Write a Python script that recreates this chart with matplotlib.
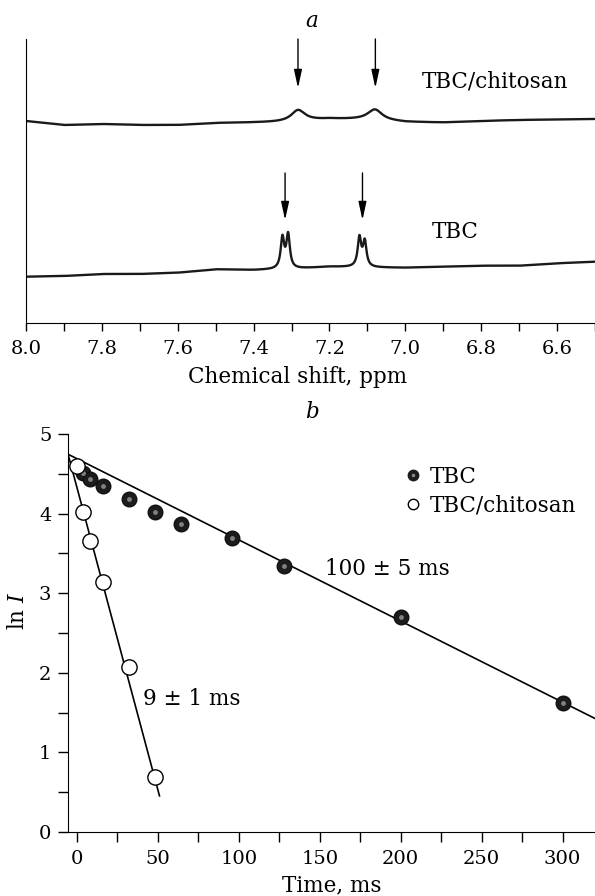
import matplotlib

matplotlib.use("Agg")
import matplotlib.pyplot as plt
from matplotlib.ticker import MultipleLocator
import numpy as np

plt.rcParams["font.family"] = "DejaVu Serif"
plt.rcParams["mathtext.fontset"] = "dejavuserif"

# --- panel a: 1H spectra (arbitrary intensity units) ---
BASELINE_PPM = [8.0, 7.9, 7.8, 7.7, 7.6, 7.5, 7.4, 7.3, 7.2, 7.1, 7.0, 6.9, 6.8, 6.7, 6.6, 6.5]
CHITOSAN_BASELINE = [202, 198, 199, 198, 198, 200, 200.5, 201, 204, 203.5, 201, 200.5, 202, 203, 203.5, 204]
TBC_BASELINE = [46.3, 47, 49, 49, 50.3, 53.7, 53, 54, 56.3, 55.5, 55.3, 56.3, 57.3, 57.3, 59.7, 61.3]

CHITOSAN_PEAK_PPM = [7.283, 7.080]
CHITOSAN_PEAK_HEIGHT = [11.5, 10.5]
CHITOSAN_PEAK_WIDTH = [0.045, 0.045]

TBC_PEAK_PPM = [7.324, 7.309, 7.121, 7.107]
TBC_PEAK_HEIGHT = [30.5, 33.5, 29.0, 25.0]
TBC_PEAK_WIDTH = [0.011, 0.011, 0.011, 0.011]

CHITOSAN_ARROWS = [7.283, 7.079]
TBC_ARROWS = [7.317, 7.113]

# --- panel b: relaxation decay ---
TBC_TIME = [4, 8, 16, 32, 48, 64, 96, 128, 200, 300]
TBC_LNI = [4.51, 4.43, 4.35, 4.18, 4.02, 3.87, 3.69, 3.34, 2.70, 1.62]
CHIT_TIME = [0, 4, 8, 16, 32, 48]
CHIT_LNI = [4.60, 4.02, 3.66, 3.14, 2.07, 0.69]

TBC_FIT = (4.69, -0.0102)      # intercept, slope
CHIT_FIT = (4.33, -0.076)
TBC_FIT_RANGE = [-5.5, 330]
CHIT_FIT_RANGE = [-5.5, 51]

TICK_FS = 14
TEXT_FS = 15.5


def lorentz_sum(x, centers, heights, widths):
    y = np.zeros_like(x)
    for c, h, w in zip(centers, heights, widths):
        y += h / (1.0 + ((x - c) / (w / 2.0)) ** 2)
    return y


fig = plt.figure(figsize=(5.95, 8.96), dpi=100)
W, H = 595.0, 896.0

# ---------------- panel a ----------------
ax1 = fig.add_axes([26 / W, 1 - 323 / H, 1 - 26 / W, (323 - 39) / H])
ppm = np.linspace(8.0, 6.5, 3001)
bp = BASELINE_PPM[::-1]
chit = np.interp(ppm, bp, CHITOSAN_BASELINE[::-1]) + lorentz_sum(
    ppm, CHITOSAN_PEAK_PPM, CHITOSAN_PEAK_HEIGHT, CHITOSAN_PEAK_WIDTH)
tbc = np.interp(ppm, bp, TBC_BASELINE[::-1]) + lorentz_sum(
    ppm, TBC_PEAK_PPM, TBC_PEAK_HEIGHT, TBC_PEAK_WIDTH)
ax1.plot(ppm, chit, color="#1a1a1a", lw=1.7)
ax1.plot(ppm, tbc, color="#1a1a1a", lw=1.7)

arrow_style = "-|>,head_length=0.55,head_width=0.12"
for xa in CHITOSAN_ARROWS:
    ax1.annotate("", xy=(xa, 235), xytext=(xa, 284),
                 arrowprops=dict(arrowstyle=arrow_style, color="black", lw=1.0,
                                 shrinkA=0, shrinkB=0, mutation_scale=20),
                 annotation_clip=False)
for xa in TBC_ARROWS:
    ax1.annotate("", xy=(xa, 103), xytext=(xa, 150),
                 arrowprops=dict(arrowstyle=arrow_style, color="black", lw=1.0,
                                 shrinkA=0, shrinkB=0, mutation_scale=20))

ax1.text(6.764, 241, "TBC/chitosan", ha="center", va="center", fontsize=TEXT_FS)
ax1.text(6.869, 91, "TBC", ha="center", va="center", fontsize=TEXT_FS)

ax1.set_xlim(8.0, 6.5)
ax1.set_ylim(0, 284)
ax1.spines["top"].set_visible(False)
ax1.spines["right"].set_visible(False)
ax1.set_yticks([])
ax1.xaxis.set_major_locator(MultipleLocator(0.2))
ax1.xaxis.set_minor_locator(MultipleLocator(0.1))
ax1.xaxis.set_major_formatter(lambda v, p: f"{v:.1f}")
ax1.tick_params(axis="x", which="both", direction="out", length=6, width=1.0,
                labelsize=TICK_FS, pad=6)
ax1.set_xlabel("Chemical shift, ppm", fontsize=TEXT_FS)
ax1.xaxis.set_label_coords((298 - 26) / (W - 26), (323 - 366) / 284)

fig.text(312 / W, 1 - 21 / H, "a", style="italic", fontsize=TEXT_FS, ha="center", va="center")
fig.text(312 / W, 1 - 412 / H, "b", style="italic", fontsize=TEXT_FS, ha="center", va="center")

# ---------------- panel b ----------------
ax2 = fig.add_axes([68 / W, 1 - 832 / H, 1 - 68 / W, (832 - 434) / H])

xf = np.array(TBC_FIT_RANGE)
ax2.plot(xf, TBC_FIT[0] + TBC_FIT[1] * xf, color="black", lw=1.2)
xf = np.array(CHIT_FIT_RANGE)
ax2.plot(xf, CHIT_FIT[0] + CHIT_FIT[1] * xf, color="black", lw=1.2)

ax2.plot(TBC_TIME, TBC_LNI, "o", ms=10.5, color="#1c1c1c", mec="#111111", zorder=3)
ax2.plot(TBC_TIME, TBC_LNI, "o", ms=3.5, color="#8c8c8c", mec="none", alpha=0.9, zorder=4)
ax2.plot(CHIT_TIME, CHIT_LNI, "o", ms=11, mfc="white", mec="black", mew=1.0, zorder=5)

h_dark = plt.Line2D([], [], ls="none", marker="o", ms=7.5, color="#1c1c1c")
h_hi = plt.Line2D([], [], ls="none", marker="o", ms=2.5, color="#8c8c8c", mec="none")
h_open = plt.Line2D([], [], ls="none", marker="o", ms=7.5, mfc="white", mec="black", mew=1.0)
leg = fig.legend([(h_dark, h_hi), h_open], ["TBC", "TBC/chitosan"],
                 loc="upper left", bbox_to_anchor=(405 / W, 1 - 466 / H),
                 frameon=False, fontsize=TEXT_FS, handlelength=0.7, handletextpad=0.45,
                 labelspacing=0.3, borderpad=0, borderaxespad=0)

ax2.text(153, 3.30, "100 \u00b1 5 ms", ha="left", va="center", fontsize=TEXT_FS)
ax2.text(40.7, 1.67, "9 \u00b1 1 ms", ha="left", va="center", fontsize=TEXT_FS)

ax2.set_xlim(-5.5, 320)
ax2.set_ylim(0, 5)
ax2.spines["top"].set_visible(False)
ax2.spines["right"].set_visible(False)
ax2.xaxis.set_major_locator(MultipleLocator(50))
ax2.xaxis.set_minor_locator(MultipleLocator(25))
ax2.yaxis.set_major_locator(MultipleLocator(1))
ax2.yaxis.set_minor_locator(MultipleLocator(0.5))
ax2.tick_params(axis="both", which="both", direction="out", length=7, width=1.0,
                labelsize=TICK_FS)
ax2.tick_params(axis="x", pad=6)
ax2.tick_params(axis="y", pad=5)
ax2.set_xlabel("Time, ms", fontsize=TEXT_FS)
ax2.xaxis.set_label_coords(0.5, (832 - 874) / 398)
ax2.set_ylabel("ln $I$", fontsize=TEXT_FS)
ax2.yaxis.set_label_coords((29 - 68) / (W - 68), (832 - 611) / 398)

fig.savefig("out.png", dpi=100)
